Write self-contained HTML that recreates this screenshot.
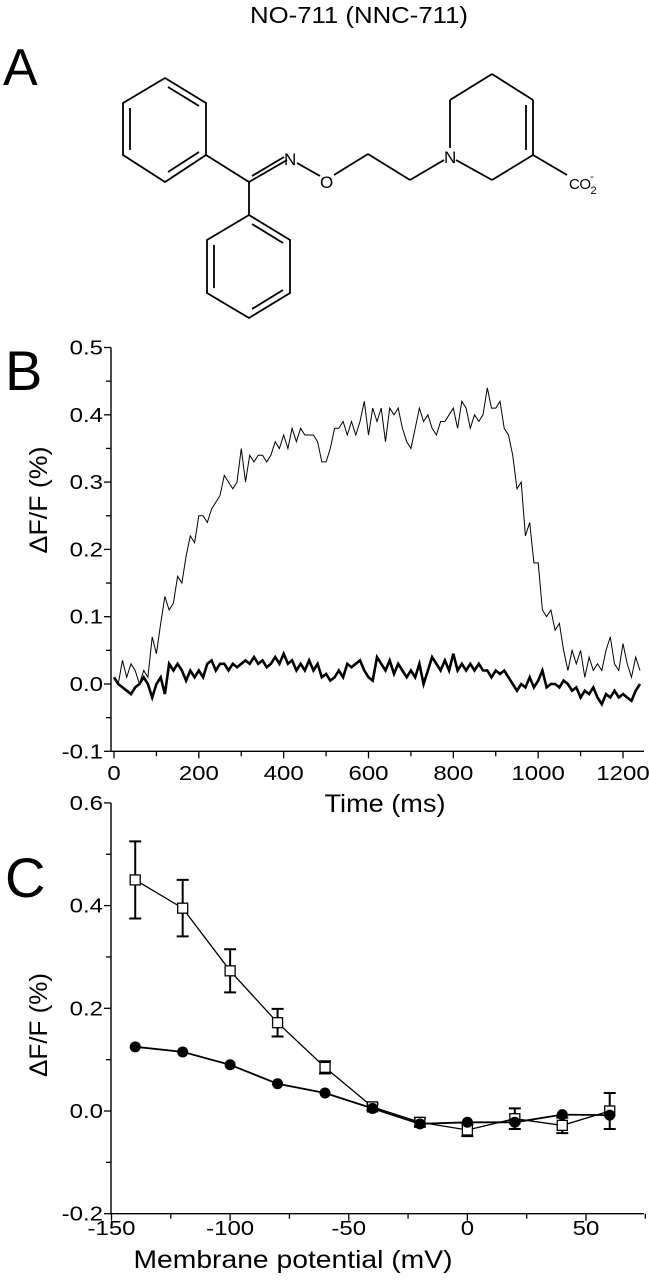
<!DOCTYPE html>
<html><head><meta charset="utf-8"><style>
html,body{margin:0;padding:0;background:#fff;}
svg{display:block;font-family:"Liberation Sans",Arial,sans-serif;}
text{fill:#000;}
</style></head><body>
<svg id="fig" width="649" height="1280" viewBox="0 0 649 1280">
<text x="250" y="23" font-size="23" textLength="218" lengthAdjust="spacingAndGlyphs">NO-711 (NNC-711)</text>
<text x="3" y="85" font-size="52">A</text>
<g stroke="#000" stroke-width="1.8" fill="none">
<polygon points="165,78 206,103 206,155 165,182 123,155 123,103"/>
<line x1="168" y1="87" x2="199" y2="106"/><line x1="199" y1="152" x2="168" y2="172"/><line x1="130" y1="108" x2="130" y2="150"/>
<line x1="206" y1="155" x2="249" y2="182"/>
<line x1="249" y1="182" x2="287" y2="160"/><line x1="252" y1="176" x2="284" y2="157"/>
<line x1="297" y1="163" x2="320" y2="176"/>
<line x1="334" y1="175" x2="368" y2="154"/><line x1="368" y1="154" x2="410" y2="180"/><line x1="410" y1="180" x2="444" y2="160"/>
<line x1="456" y1="160" x2="492" y2="180"/><line x1="492" y1="180" x2="533" y2="155"/><line x1="533" y1="155" x2="533" y2="100"/>
<line x1="526" y1="150" x2="526" y2="105"/>
<line x1="533" y1="100" x2="492" y2="74"/><line x1="492" y1="74" x2="450" y2="100"/><line x1="450" y1="100" x2="450" y2="148"/>
<line x1="533" y1="155" x2="567" y2="175"/>
<line x1="249" y1="182" x2="249" y2="215"/>
<polygon points="249,215 290,240 290,293 249,318 207,293 207,240"/>
<line x1="252" y1="224" x2="283" y2="243"/><line x1="283" y1="290" x2="252" y2="309"/><line x1="214" y1="245" x2="214" y2="288"/>
</g>
<text x="284" y="165" font-size="17">N</text>
<text x="320" y="188" font-size="17">O</text>
<text x="444" y="163" font-size="17">N</text>
<text x="569" y="189" font-size="15" letter-spacing="-0.5">CO<tspan font-size="11" dy="5">2</tspan><tspan font-size="11" dx="-6" dy="-14">-</tspan></text>

<text x="5" y="390" font-size="56">B</text>
<g id="chartB"></g>
<text x="385" y="812" font-size="25" text-anchor="middle" textLength="121" lengthAdjust="spacingAndGlyphs">Time (ms)</text>
<text transform="translate(47,500) rotate(-90)" font-size="25" text-anchor="middle" textLength="107" lengthAdjust="spacingAndGlyphs">ΔF/F (%)</text>

<text x="5" y="897" font-size="56">C</text>
<g id="chartC"></g>
<text x="293" y="1268" font-size="25" text-anchor="middle" textLength="319" lengthAdjust="spacingAndGlyphs">Membrane potential (mV)</text>
<text transform="translate(47,1025) rotate(-90)" font-size="25" text-anchor="middle" textLength="104" lengthAdjust="spacingAndGlyphs">ΔF/F (%)</text>
</svg>
<script>
var bTime = [];
for (var i = 0; i <= 124; i++) bTime.push(i * 10);
var bThin = [0.01,0.0,0.035,0.01,0.03,0.02,0.0,0.02,0.01,0.07,0.045,0.09,0.13,0.11,0.12,0.16,0.15,0.19,0.22,0.21,0.25,0.25,0.24,0.26,0.27,0.28,0.31,0.30,0.29,0.30,0.35,0.30,0.34,0.33,0.34,0.34,0.33,0.34,0.36,0.35,0.37,0.35,0.38,0.36,0.38,0.37,0.37,0.37,0.36,0.33,0.33,0.35,0.38,0.38,0.39,0.37,0.39,0.37,0.39,0.42,0.37,0.41,0.39,0.41,0.36,0.41,0.40,0.41,0.38,0.36,0.35,0.38,0.41,0.39,0.40,0.38,0.37,0.39,0.39,0.40,0.41,0.38,0.42,0.41,0.38,0.40,0.39,0.40,0.44,0.41,0.41,0.42,0.38,0.37,0.34,0.29,0.30,0.22,0.24,0.18,0.18,0.11,0.10,0.11,0.08,0.09,0.05,0.02,0.05,0.03,0.05,0.01,0.04,0.02,0.03,0.02,0.05,0.07,0.03,0.02,0.06,0.03,0.01,0.04,0.02];
var bThick = [0.01,0.0,-0.005,-0.01,-0.015,-0.005,0.0,0.01,0.0,-0.02,0.0,0.01,-0.015,0.03,0.02,0.03,0.02,0.005,0.02,0.01,0.02,0.01,0.03,0.035,0.02,0.03,0.03,0.02,0.03,0.025,0.03,0.035,0.03,0.04,0.03,0.035,0.025,0.03,0.04,0.03,0.045,0.03,0.035,0.02,0.03,0.02,0.035,0.02,0.03,0.01,0.015,0.005,0.01,0.02,0.01,0.03,0.025,0.03,0.035,0.02,0.01,0.005,0.04,0.03,0.02,0.035,0.015,0.03,0.02,0.01,0.02,0.01,0.03,0.0,0.02,0.04,0.03,0.02,0.035,0.02,0.045,0.02,0.03,0.02,0.03,0.02,0.03,0.02,0.02,0.01,0.02,0.015,0.02,0.01,0.0,-0.01,0.0,-0.005,0.01,-0.005,0.005,0.02,-0.005,0.0,0.0,-0.005,0.005,0.0,-0.01,-0.005,-0.02,-0.01,-0.015,-0.005,-0.02,-0.03,-0.015,-0.02,-0.01,-0.02,-0.015,-0.02,-0.025,-0.01,0.0];
var bXTicks = [0,200,400,600,800,1000,1200];
var bYTicks = [-0.1,0.0,0.1,0.2,0.3,0.4,0.5];
var bYLabels = ["-0.1","0.0","0.1","0.2","0.3","0.4","0.5"];

var cVolt = [-140,-120,-100,-80,-60,-40,-20,0,20,40,60];
var cSquare = [0.45,0.395,0.273,0.172,0.085,0.008,-0.022,-0.037,-0.015,-0.028,0.0];
var cSquareErr = [0.075,0.055,0.042,0.027,0.012,0.006,0.008,0.012,0.02,0.015,0.035];
var cCircle = [0.125,0.115,0.09,0.053,0.035,0.005,-0.025,-0.022,-0.022,-0.007,-0.008];
var cXTicks = [-150,-100,-50,0,50];
var cYTicks = [-0.2,0.0,0.2,0.4,0.6];
var cYLabels = ["-0.2","0.0","0.2","0.4","0.6"];

var NS = "http://www.w3.org/2000/svg";
function mk(parent, tag, attrs) {
  var e = document.createElementNS(NS, tag);
  for (var k in attrs) e.setAttribute(k, attrs[k]);
  parent.appendChild(e);
  return e;
}
function widen(t) {
  var w = t.getComputedTextLength();
  t.setAttribute('textLength', (w * 1.2).toFixed(1));
  t.setAttribute('lengthAdjust', 'spacingAndGlyphs');
}
// Panel B scales
function bx(t) { return 114 + (t / 1200) * 509; }
function by(v) { return 684 - v * 673; }
var gB = document.getElementById('chartB');
var ax = mk(gB, 'path', {d: 'M111,' + by(0.5) + ' L111,' + by(-0.1) + ' L644,' + by(-0.1), stroke: '#000', 'stroke-width': 1.4, fill: 'none'});


for (var k = -2; k <= 10; k++) {
  var v = k * 0.05;
  var tk = mk(gB, 'line', {x1: 111, x2: k % 2 === 0 ? 104 : 106, y1: by(v), y2: by(v), stroke: '#000', 'stroke-width': 1.3});
  
  
}
bYTicks.forEach(function (v, i) {
  var t = mk(gB, 'text', {x: 103, y: by(v) + 7, 'font-size': 20, 'text-anchor': 'end'});
  t.textContent = bYLabels[i];
  
  
  widen(t);
});
for (var t0 = 0; t0 <= 1200; t0 += 100) {
  var tk2 = mk(gB, 'line', {x1: bx(t0), x2: bx(t0), y1: by(-0.1), y2: by(-0.1) + (t0 % 200 === 0 ? 7 : 5), stroke: '#000', 'stroke-width': 1.3});
  
  
}
bXTicks.forEach(function (t) {
  var tx = mk(gB, 'text', {x: bx(t), y: 780, 'font-size': 20, 'text-anchor': 'middle'});
  tx.textContent = String(t);
  
  
  widen(tx);
});
function linePath(xs, ys, fx, fy) {
  return xs.map(function (x, i) { return (i ? 'L' : 'M') + fx(x).toFixed(1) + ',' + fy(ys[i]).toFixed(1); }).join(' ');
}
var thin = mk(gB, 'path', {d: linePath(bTime, bThin, bx, by), stroke: '#000', 'stroke-width': 1, fill: 'none'});


var thick = mk(gB, 'path', {d: linePath(bTime, bThick, bx, by), stroke: '#000', 'stroke-width': 2.6, fill: 'none'});



// Panel C scales
function cx(v) { return 111.5 + (v + 150) / 200 * 474.5; }
function cy(v) { return 1111 - v / 0.2 * 102.7; }
var gC = document.getElementById('chartC');
var axc = mk(gC, 'path', {d: 'M111,' + cy(0.6) + ' L111,' + cy(-0.2) + ' L644,' + cy(-0.2), stroke: '#000', 'stroke-width': 1.4, fill: 'none'});


for (var q = -2; q <= 6; q++) {
  var yv = q / 10;
  var tk3 = mk(gC, 'line', {x1: 111, x2: q % 2 === 0 ? 104 : 106, y1: cy(yv), y2: cy(yv), stroke: '#000', 'stroke-width': 1.3});
  
  
}
cYTicks.forEach(function (v, i) {
  var t = mk(gC, 'text', {x: 103, y: cy(v) + 7, 'font-size': 20, 'text-anchor': 'end'});
  t.textContent = cYLabels[i];
  
  
  widen(t);
});
for (var m = -150; m <= 75; m += 25) {
  var tk4 = mk(gC, 'line', {x1: cx(m), x2: cx(m), y1: cy(-0.2), y2: cy(-0.2) + (m % 50 === 0 ? 7 : 5), stroke: '#000', 'stroke-width': 1.3});
  
  
}
cXTicks.forEach(function (v) {
  var tx = mk(gC, 'text', {x: cx(v), y: 1235, 'font-size': 20, 'text-anchor': 'middle'});
  tx.textContent = String(v);
  
  
  widen(tx);
});
var sqLine = mk(gC, 'path', {d: linePath(cVolt, cSquare, cx, cy), stroke: '#000', 'stroke-width': 1.3, fill: 'none'});


var ciLine = mk(gC, 'path', {d: linePath(cVolt, cCircle, cx, cy), stroke: '#000', 'stroke-width': 1.8, fill: 'none'});


cVolt.forEach(function (v, i) {
  var x = cx(v), y1 = cy(cSquare[i] + cSquareErr[i]), y2 = cy(cSquare[i] - cSquareErr[i]);
  var eb = mk(gC, 'path', {d: 'M' + x + ',' + y1 + ' L' + x + ',' + y2 + ' M' + (x - 6) + ',' + y1 + ' L' + (x + 6) + ',' + y1 + ' M' + (x - 6) + ',' + y2 + ' L' + (x + 6) + ',' + y2, stroke: '#000', 'stroke-width': 2, fill: 'none'});
  
  
});
cVolt.forEach(function (v, i) {
  var sq = mk(gC, 'rect', {x: cx(v) - 5, y: cy(cSquare[i]) - 5, width: 10, height: 10, fill: '#fff', stroke: '#000', 'stroke-width': 1.3});
  
  
});
cVolt.forEach(function (v, i) {
  var c = mk(gC, 'circle', {cx: cx(v), cy: cy(cCircle[i]), r: 5.5, fill: '#000'});
  
  
});
</script>
</body></html>
